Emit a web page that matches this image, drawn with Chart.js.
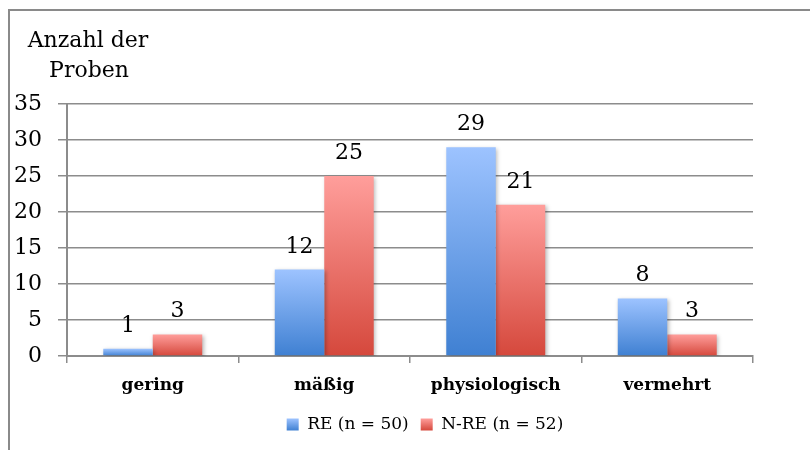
<!DOCTYPE html>
<html>
<head>
<meta charset="utf-8">
<script src="https://cdn.jsdelivr.net/npm/chart.js@4.4.1/dist/chart.umd.min.js"></script>
<style>
  html, body { margin: 0; padding: 0; background: #fff; }
  #wrap { position: relative; width: 810px; height: 450px; }
</style>
</head>
<body>
<div id="wrap"><canvas id="c" width="810" height="450"></canvas></div>
<script>
const categories = ['gering', 'mäßig', 'physiologisch', 'vermehrt'];
const seriesRE = [1, 12, 29, 8];
const seriesNRE = [3, 25, 21, 3];
const seriesNames = ['RE (n = 50)', 'N-RE (n = 52)'];
const yTitleLines = ['Anzahl der', 'Proben'];
const yTicks = [0, 5, 10, 15, 20, 25, 30, 35];

const FONT = "'DejaVu Serif', serif";
const GRID = '#8c8c8c';
const BLUE = ['#9dc3ff', '#3f80d2'];
const RED = ['#ff9e9b', '#d5483c'];
const LEGEND_COLS = [BLUE, RED];

function barGradient(colors) {
  return function (ctx) {
    const chart = ctx.chart;
    if (!chart.chartArea || ctx.type !== 'data') return colors[1];
    const y = chart.scales.y;
    const top = y.getPixelForValue(ctx.raw);
    const base = y.getPixelForValue(0);
    if (!isFinite(top) || top === base) return colors[1];
    const g = chart.ctx.createLinearGradient(0, top, 0, base);
    g.addColorStop(0, colors[0]);
    g.addColorStop(1, colors[1]);
    return g;
  };
}

const decor = {
  id: 'decor',
  afterLayout(chart) {
    const lg = chart.legend;
    if (lg) { lg.left += 20; lg.right += 20; }
  },
  beforeDraw(chart) {
    const lg = chart.legend;
    if (lg && lg.legendItems) {
      const top = lg.top + 14.5;
      lg.legendItems.forEach((it, i) => {
        const g = chart.ctx.createLinearGradient(0, top, 0, top + 12);
        g.addColorStop(0, LEGEND_COLS[i][0]);
        g.addColorStop(1, LEGEND_COLS[i][1]);
        it.fillStyle = g;
      });
    }
  },
  beforeDatasetsDraw(chart) {
    const c = chart.ctx;
    c.save();
    c.shadowColor = 'rgba(0,0,0,0.28)';
    c.shadowBlur = 4;
    c.shadowOffsetX = 1.5;
    c.shadowOffsetY = 1.5;
  },
  afterDatasetsDraw(chart) {
    const c = chart.ctx;
    c.restore();
    c.save();
    c.fillStyle = '#000';
    c.font = '22px ' + FONT;
    c.textAlign = 'center';
    c.textBaseline = 'alphabetic';
    chart.data.datasets.forEach((ds, i) => {
      const meta = chart.getDatasetMeta(i);
      meta.data.forEach((bar, j) => {
        c.fillText(String(ds.data[j]), bar.x, bar.y - 17);
      });
    });
    c.restore();
  },
  afterDraw(chart) {
    const c = chart.ctx;
    c.save();
    c.strokeStyle = '#8a8a8a';
    c.lineWidth = 2;
    c.strokeRect(9, 10, 1000, 1000);
    c.fillStyle = '#000';
    c.font = '22px ' + FONT;
    c.textAlign = 'center';
    c.textBaseline = 'alphabetic';
    c.fillText(yTitleLines[0], 88, 47);
    c.fillText(yTitleLines[1], 89, 77);
    c.restore();
  }
};

new Chart(document.getElementById('c'), {
  type: 'bar',
  data: {
    labels: categories,
    datasets: [
      { label: seriesNames[0], data: seriesRE, backgroundColor: barGradient(BLUE), borderWidth: 0 },
      { label: seriesNames[1], data: seriesNRE, backgroundColor: barGradient(RED), borderWidth: 0 }
    ]
  },
  options: {
    responsive: false,
    animation: false,
    devicePixelRatio: 1,
    layout: { padding: { top: 104, left: 0, right: 0, bottom: 7 } },
    datasets: { bar: { categoryPercentage: 0.577, barPercentage: 1 } },
    scales: {
      x: {
        grid: { display: true, drawOnChartArea: false, drawTicks: true, tickLength: 7, color: GRID, lineWidth: 1.5, offset: true },
        border: { display: true, color: GRID, width: 2 },
        ticks: { color: '#000', font: { family: FONT, size: 17, weight: 'bold' }, padding: 12, maxRotation: 0, autoSkip: false },
        afterFit(s) { s.height = 48; }
      },
      y: {
        min: 0, max: 35,
        afterBuildTicks(s) { s.ticks = yTicks.map(v => ({ value: v })); },
        grid: { color: GRID, lineWidth: 1.5, drawTicks: true, tickLength: 9 },
        border: { display: true, color: GRID, width: 2 },
        ticks: { color: '#000', font: { family: FONT, size: 22 }, padding: 16 },
        afterFit(s) { s.width = 67; }
      },
      y2: {
        position: 'right',
        display: true,
        grid: { display: false, drawTicks: false },
        border: { display: false },
        ticks: { display: false },
        afterFit(s) { s.width = 57; }
      }
    },
    plugins: {
      legend: {
        position: 'bottom',
        labels: {
          boxWidth: 12, boxHeight: 12, padding: 12,
          color: '#000',
          font: { family: FONT, size: 17 },
          generateLabels(chart) {
            return chart.data.datasets.map((ds, i) => ({
              text: ds.label,
              fillStyle: LEGEND_COLS[i][1],
              strokeStyle: 'rgba(0,0,0,0)',
              lineWidth: 0,
              hidden: false,
              datasetIndex: i
            }));
          }
        }
      },
      tooltip: { enabled: false }
    }
  },
  plugins: [decor]
});
</script>
</body>
</html>
